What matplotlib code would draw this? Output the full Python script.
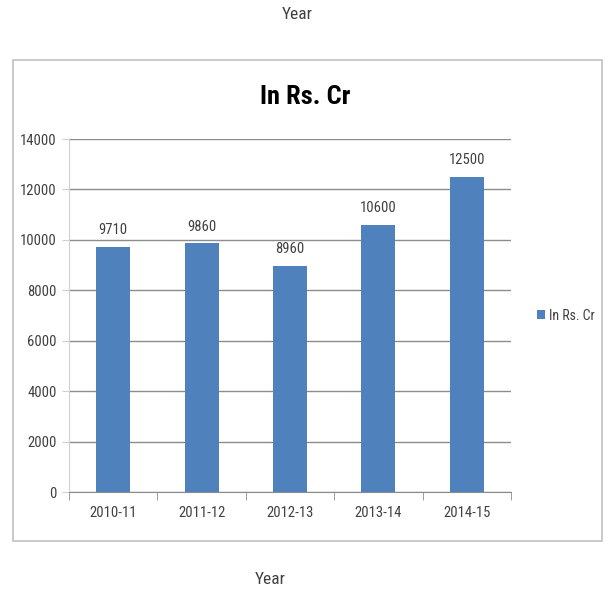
import matplotlib
matplotlib.use("Agg")
import matplotlib.pyplot as plt
from matplotlib.patches import Rectangle
import numpy as np

# -----------------------------
# DATA
# -----------------------------
years = ["2010-11", "2011-12", "2012-13", "2013-14", "2014-15"]
amounts = [9710, 9860, 8960, 10600, 12500]
series_name = "In Rs. Cr"
y_ticks = [0, 2000, 4000, 6000, 8000, 10000, 12000, 14000]

BAR_COLOR = "#4F81BD"
TEXT_COLOR = "#404040"
GRID_COLOR = "#8c8c8c"

plt.rcParams["font.family"] = ["Roboto Condensed", "Roboto", "DejaVu Sans"]

fig = plt.figure(figsize=(6.11, 5.91), dpi=100)

# outer chart frame
frame = Rectangle((0.0213, 0.0846), 0.964, 0.8139, transform=fig.transFigure,
                  fill=False, edgecolor="#c0c0c0", linewidth=1.2)
fig.patches.append(frame)

ax = fig.add_axes([0.1129, 0.1675, 0.7234, 0.5973])

x = np.arange(len(years))
bars = ax.bar(x, amounts, width=0.385, color=BAR_COLOR, label=series_name, zorder=3)

# value labels above each bar
for bar, val in zip(bars, amounts):
    ax.annotate(f"{val}", (bar.get_x() + bar.get_width() / 2, val),
                xytext=(0, 7), textcoords="offset points",
                ha="center", va="bottom", fontsize=10.5, color=TEXT_COLOR)

ax.set_xlim(-0.5, len(years) - 0.5)
ax.set_ylim(0, 14000)
ax.set_yticks(y_ticks)
ax.set_yticklabels([str(t) for t in y_ticks], fontsize=10.5, color=TEXT_COLOR)
ax.yaxis.grid(True, color=GRID_COLOR, linewidth=1, zorder=0)

# category labels centred, ticks on boundaries
ax.set_xticks(x)
ax.set_xticklabels(years, fontsize=10.5, color=TEXT_COLOR)
ax.tick_params(axis="x", length=0, pad=10)
ax.set_xticks(np.arange(-0.5, len(years)), minor=True)
ax.tick_params(axis="x", which="minor", length=6, color=GRID_COLOR, direction="out")
ax.tick_params(axis="y", length=5, color="#d0d0d0", pad=4)

for side in ["top", "right"]:
    ax.spines[side].set_visible(False)
ax.spines["bottom"].set_color(GRID_COLOR)
ax.spines["left"].set_color("#d0d0d0")

fig.text(0.500, 0.836, series_name, ha="center", va="center",
         fontsize=19, fontweight="bold", color="black")

ax.legend(loc="center left", bbox_to_anchor=(1.03, 0.5), frameon=False,
          fontsize=10, handlelength=0.6, handleheight=0.6, handletextpad=0.3,
          labelcolor=TEXT_COLOR)

fig.text(0.486, 0.975, "Year", ha="center", va="center", fontsize=12.5, color=TEXT_COLOR)
fig.text(0.442, 0.019, "Year", ha="center", va="center", fontsize=12.5, color=TEXT_COLOR)

fig.savefig("out.png", dpi=100)
